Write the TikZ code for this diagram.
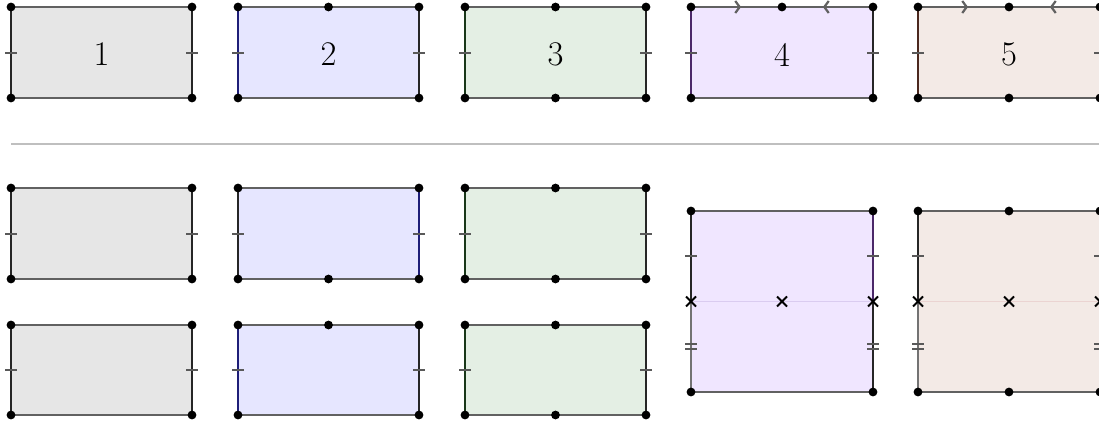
\documentclass[tikz,border=0pt]{standalone}
\usetikzlibrary{arrows.meta,decorations.markings,calc}
\definecolor{fillgray}{RGB}{230,230,230}
\definecolor{fillblue}{RGB}{230,230,255}
\definecolor{fillgreen}{RGB}{228,239,228}
\definecolor{fillviolet}{RGB}{240,230,255}
\definecolor{fillbrown}{RGB}{243,234,230}
\definecolor{edgeblue}{RGB}{30,30,120}
\definecolor{edgegreen}{RGB}{25,55,25}
\definecolor{edgeviolet}{RGB}{75,40,105}
\definecolor{edgebrown}{RGB}{75,40,30}
\definecolor{midviolet}{RGB}{218,204,240}
\definecolor{midbrown}{RGB}{235,212,210}
\tikzstyle{hedge}=[line width=1.4pt,draw=black!62]
\tikzstyle{vedge}=[line width=1.4pt]
\tikzstyle{tick}=[line width=1pt,draw=black!65]
\tikzstyle{crossmark}=[line width=1pt,draw=black]
\tikzstyle{midline}=[line width=0.5pt]
\tikzstyle{rule}=[line width=1pt,draw=black!25]
\tikzstyle{arrowmid}=[postaction={decorate},decoration={markings,mark=at position 0.55 with {\arrow{Straight Barb[length=2.2pt,width=6pt,line width=1.1pt]}}}]
\newcommand{\panelbox}[6]{%
  \fill[#6] (#2,#3) rectangle ++(#4,#5);
  \coordinate (#1-nw) at (#2,#3);
  \coordinate (#1-ne) at ({#2+#4},#3);
  \coordinate (#1-sw) at (#2,{#3+#5});
  \coordinate (#1-se) at ({#2+#4},{#3+#5});
  \coordinate (#1-n) at ({#2+#4/2},#3);
  \coordinate (#1-s) at ({#2+#4/2},{#3+#5});
  \coordinate (#1-w) at (#2,{#3+#5/2});
  \coordinate (#1-e) at ({#2+#4},{#3+#5/2});
  \coordinate (#1-c) at ({#2+#4/2},{#3+#5/2});
}
\newcommand{\panelframe}[3]{%
  \draw[hedge] (#1-nw) -- (#1-ne);
  \draw[hedge] (#1-sw) -- (#1-se);
  \draw[vedge,draw=#2] (#1-nw) -- (#1-sw);
  \draw[vedge,draw=#3] (#1-ne) -- (#1-se);
  \draw[tick] (#1-w) +(-6,0) -- +(6,0);
  \draw[tick] (#1-e) +(-6,0) -- +(6,0);
}
\begin{document}
\begin{tikzpicture}[x=0.5pt,y=-0.5pt]
\useasboundingbox (0,0) rectangle (1099,423);

\panelbox{t1}{11}{7}{181}{91}{fillgray}
\panelbox{t2}{238}{7}{181}{91}{fillblue}
\panelbox{t3}{465}{7}{181}{91}{fillgreen}
\panelbox{t4}{691}{7}{182}{91}{fillviolet}
\panelbox{t5}{918}{7}{182}{91}{fillbrown}

\panelframe{t1}{black!85}{black!85}
\panelframe{t2}{edgeblue}{black!85}
\panelframe{t3}{edgegreen}{black!85}
\panelframe{t4}{edgeviolet}{black!85}
\panelframe{t5}{edgebrown}{black!85}

\draw[hedge,arrowmid] (t4-nw) -- (t4-n);
\draw[hedge,arrowmid] (t4-ne) -- (t4-n);
\draw[hedge,arrowmid] (t5-nw) -- (t5-n);
\draw[hedge,arrowmid] (t5-ne) -- (t5-n);

\node (lab1) at ($(t1-c)+(0,2)$) {\LARGE 1};
\node (lab2) at ($(t2-c)+(0,2)$) {\LARGE 2};
\node (lab3) at ($(t3-c)+(0,2)$) {\LARGE 3};
\node (lab4) at ($(t4-c)+(0,2)$) {\LARGE 4};
\node (lab5) at ($(t5-c)+(0,2)$) {\LARGE 5};

\coordinate (sep-l) at (11,144);
\coordinate (sep-r) at (1099,144);
\draw[rule] (sep-l) -- (sep-r);

\panelbox{a1}{11}{188}{181}{91}{fillgray}
\panelbox{b1}{11}{325}{181}{90}{fillgray}
\panelbox{a2}{238}{188}{181}{91}{fillblue}
\panelbox{b2}{238}{325}{181}{90}{fillblue}
\panelbox{a3}{465}{188}{181}{91}{fillgreen}
\panelbox{b3}{465}{325}{181}{90}{fillgreen}

\panelframe{a1}{black!85}{black!85}
\panelframe{b1}{black!85}{black!85}
\panelframe{a2}{black!85}{edgeblue}
\panelframe{b2}{edgeblue}{black!85}
\panelframe{a3}{edgegreen}{black!85}
\panelframe{b3}{edgegreen}{black!85}

\panelbox{q4}{691}{211}{182}{181}{fillviolet}
\panelbox{q5}{918}{211}{182}{181}{fillbrown}

\draw[midline,draw=midviolet] (q4-w) -- (q4-e);
\draw[midline,draw=midbrown] (q5-w) -- (q5-e);

\draw[hedge] (q4-nw) -- (q4-ne);
\draw[hedge] (q4-sw) -- (q4-se);
\draw[vedge,draw=black!85] (q4-nw) -- (q4-w);
\draw[vedge,draw=black!55] (q4-w) -- (q4-sw);
\draw[vedge,draw=edgeviolet] (q4-ne) -- (q4-e);
\draw[vedge,draw=black!85] (q4-e) -- (q4-se);

\draw[hedge] (q5-nw) -- (q5-ne);
\draw[hedge] (q5-sw) -- (q5-se);
\draw[vedge,draw=black!85] (q5-nw) -- (q5-w);
\draw[vedge,draw=black!55] (q5-w) -- (q5-sw);
\draw[vedge,draw=midbrown] (q5-ne) -- (q5-e);
\draw[vedge,draw=black!55] (q5-e) -- (q5-se);

\foreach \q in {q4,q5} {
  \draw[tick] ($(\q-nw)!0.5!(\q-w)$) +(-6,0) -- +(6,0);
  \draw[tick] ($(\q-ne)!0.5!(\q-e)$) +(-6,0) -- +(6,0);
  \draw[tick] ($(\q-w)!0.5!(\q-sw)$) +(-6,-2.5) -- +(6,-2.5) +(-6,2.5) -- +(6,2.5);
  \draw[tick] ($(\q-e)!0.5!(\q-se)$) +(-6,-2.5) -- +(6,-2.5) +(-6,2.5) -- +(6,2.5);
  \foreach \p in {w,c,e}
    \draw[crossmark] (\q-\p) +(-5,-5) -- +(5,5) +(-5,5) -- +(5,-5);
}

\foreach \p in {t1-nw,t1-ne,t1-sw,t1-se,
                t2-nw,t2-ne,t2-sw,t2-se,t2-n,
                t3-nw,t3-ne,t3-sw,t3-se,t3-n,t3-s,
                t4-nw,t4-ne,t4-sw,t4-se,t4-n,
                t5-nw,t5-ne,t5-sw,t5-se,t5-n,t5-s,
                a1-nw,a1-ne,a1-sw,a1-se,b1-nw,b1-ne,b1-sw,b1-se,
                a2-nw,a2-ne,a2-sw,a2-se,a2-s,b2-nw,b2-ne,b2-sw,b2-se,b2-n,
                a3-nw,a3-ne,a3-sw,a3-se,a3-n,a3-s,b3-nw,b3-ne,b3-sw,b3-se,b3-n,b3-s,
                q4-nw,q4-ne,q4-sw,q4-se,
                q5-nw,q5-ne,q5-sw,q5-se,q5-n,q5-s}
  \fill (\p) circle (2.2pt);

\end{tikzpicture}
\end{document}
